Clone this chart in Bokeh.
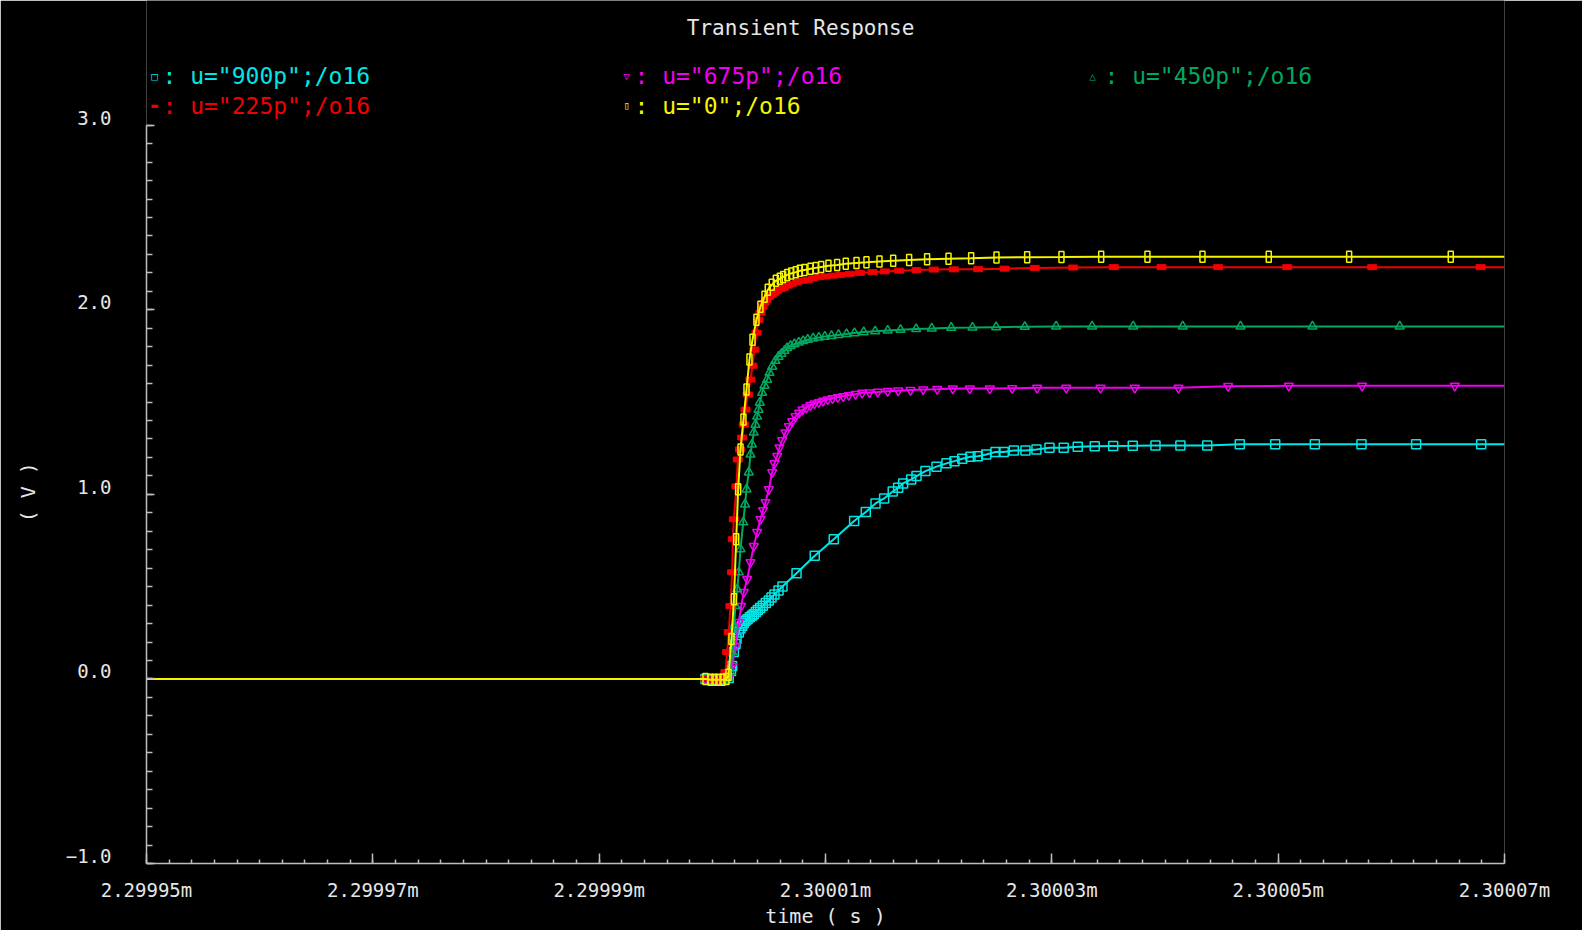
import numpy as np
from bokeh.plotting import figure
from bokeh.models import ColumnDataSource, FixedTicker, Label, Range1d
from bokeh.embed import file_html
from bokeh.resources import INLINE

# ---------------- data (time in ns relative to 2.30000 ms, voltage in V) -------------
X_TICKS = [-50, -30, -10, 10, 30, 50, 70]
X_TICK_LABELS = ["2.29995m", "2.29997m", "2.29999m", "2.30001m", "2.30003m", "2.30005m", "2.30007m"]
Y_TICKS = [-1, 0, 1, 2, 3]
Y_TICK_LABELS = ["\u22121.0", "0.0", "1.0", "2.0", "3.0"]

TITLE = "Transient Response"
X_LABEL = "time ( s )"
Y_LABEL = "( V )"

LEGEND_SYMBOLS = ["\u25a1", "\u25bd", "\u25b3", "\u25ac", "\u25af"]
LEGEND_LABELS = ['u="900p";/o16', 'u="675p";/o16', 'u="450p";/o16', 'u="225p";/o16', 'u="0";/o16']

# u = 900p (cyan)
t_900 = [-50, -0.61, 0.01, 0.54, 1.07, 1.45, 1.65, 1.75, 1.90, 2.05, 2.14, 2.34, 2.49, 2.64, 2.78, 2.93,
         3.11, 3.31, 3.49, 3.66, 3.84, 4.02, 4.23, 4.46, 4.72, 4.99, 5.23, 5.49, 5.85, 6.20, 7.44, 9.05,
         10.73, 12.53, 13.56, 14.42, 15.18, 15.94, 16.42, 16.86, 17.57, 18.04, 18.83, 19.81, 20.69, 21.40,
         22.08, 22.81, 23.46, 24.20, 25.02, 25.75, 26.64, 27.67, 28.64, 29.79, 31.05, 32.29, 33.79, 35.42,
         37.15, 39.16, 41.36, 43.73, 46.61, 49.74, 53.24, 57.36, 62.19, 67.94, 70]
v_900 = [0, 0, -0.005, -0.005, -0.005, 0.005, 0.043, 0.070, 0.146, 0.189, 0.216, 0.252, 0.273, 0.288, 0.303,
         0.315, 0.324, 0.334, 0.342, 0.351, 0.362, 0.373, 0.384, 0.396, 0.411, 0.425, 0.441, 0.458, 0.479,
         0.501, 0.573, 0.667, 0.757, 0.856, 0.904, 0.951, 0.978, 1.015, 1.036, 1.059, 1.081, 1.099, 1.126,
         1.150, 1.168, 1.180, 1.193, 1.204, 1.207, 1.216, 1.229, 1.229, 1.238, 1.238, 1.243, 1.252, 1.252,
         1.258, 1.261, 1.262, 1.263, 1.265, 1.265, 1.265, 1.272, 1.272, 1.272, 1.272, 1.272, 1.272, 1.272]

# u = 675p (magenta)
t_675 = [-50, -0.61, 0.01, 0.54, 1.07, 1.45, 1.75, 2.05, 2.34, 2.55, 2.78, 3.08, 3.37, 3.66, 3.96, 4.25,
         4.48, 4.70, 4.99, 5.29, 5.49, 5.73, 5.93, 6.17, 6.46, 6.76, 7.06, 7.35, 7.67, 7.97, 8.32, 8.67,
         9.03, 9.41, 9.79, 10.20, 10.62, 11.09, 11.56, 12.06, 12.65, 13.24, 13.89, 14.62, 15.50, 16.42,
         17.51, 18.63, 19.87, 21.25, 22.75, 24.52, 26.50, 28.70, 31.27, 34.30, 37.33, 41.19, 45.58, 50.94,
         57.42, 65.61, 70]
v_675 = [0, 0, -0.005, -0.005, -0.005, 0.005, 0.070, 0.178, 0.308, 0.395, 0.470, 0.541, 0.632, 0.719, 0.795,
         0.865, 0.914, 0.957, 1.027, 1.119, 1.168, 1.207, 1.254, 1.292, 1.335, 1.368, 1.395, 1.422, 1.441,
         1.459, 1.470, 1.483, 1.492, 1.499, 1.506, 1.514, 1.520, 1.526, 1.531, 1.537, 1.543, 1.550, 1.552,
         1.555, 1.559, 1.562, 1.565, 1.568, 1.570, 1.573, 1.573, 1.573, 1.575, 1.577, 1.577, 1.577, 1.577,
         1.577, 1.586, 1.588, 1.588, 1.588, 1.588]

# u = 450p (green)
t_450 = [-50, -0.61, 0.01, 0.54, 1.07, 1.43, 1.60, 1.75, 1.90, 2.05, 2.20, 2.34, 2.49, 2.73, 2.89, 3.02,
         3.22, 3.37, 3.50, 3.66, 3.81, 3.96, 4.08, 4.19, 4.40, 4.61, 4.85, 5.05, 5.29, 5.58, 5.85, 6.11,
         6.38, 6.61, 6.91, 7.26, 7.64, 8.03, 8.43, 8.91, 9.41, 9.94, 10.53, 11.15, 11.86, 12.56, 13.38,
         14.39, 15.50, 16.63, 18.01, 19.39, 21.11, 22.99, 25.08, 27.61, 30.38, 33.56, 37.19, 41.57, 46.67,
         53.03, 60.74, 70]
v_450 = [0, 0, -0.005, -0.005, -0.005, 0.005, 0.038, 0.146, 0.286, 0.395, 0.486, 0.578, 0.703, 0.849, 0.946,
         1.027, 1.119, 1.216, 1.270, 1.335, 1.378, 1.422, 1.459, 1.497, 1.551, 1.589, 1.622, 1.659, 1.692,
         1.724, 1.746, 1.762, 1.778, 1.793, 1.805, 1.814, 1.823, 1.831, 1.838, 1.845, 1.850, 1.855, 1.859,
         1.864, 1.869, 1.874, 1.879, 1.884, 1.888, 1.892, 1.896, 1.899, 1.903, 1.904, 1.906, 1.908, 1.910,
         1.910, 1.910, 1.910, 1.910, 1.910, 1.910, 1.910]

# u = 225p (red)
t_225 = [-50, -0.61, 0.01, 0.54, 0.99, 1.16, 1.31, 1.45, 1.60, 1.75, 1.81, 1.90, 2.13, 2.25, 2.44, 2.64,
         2.78, 2.93, 3.13, 3.37, 3.55, 3.72, 3.90, 4.08, 4.26, 4.43, 4.61, 4.78, 5.02, 5.25, 5.49, 5.73,
         6.02, 6.31, 6.67, 7.06, 7.50, 7.97, 8.44, 8.91, 9.44, 10.02, 10.68, 11.32, 12.15, 13.03, 14.15,
         15.24, 16.51, 18.04, 19.57, 21.34, 23.49, 25.82, 28.49, 31.89, 35.47, 39.69, 44.70, 50.80, 58.31,
         67.88, 70]
v_225 = [0, 0, -0.005, -0.005, 0.005, 0.038, 0.146, 0.254, 0.395, 0.578, 0.757, 0.865, 1.043, 1.189, 1.243,
         1.308, 1.378, 1.459, 1.541, 1.622, 1.697, 1.784, 1.876, 1.946, 1.984, 2.016, 2.038, 2.054, 2.070,
         2.081, 2.092, 2.103, 2.112, 2.119, 2.131, 2.141, 2.150, 2.157, 2.162, 2.170, 2.177, 2.181, 2.185,
         2.189, 2.195, 2.200, 2.204, 2.208, 2.212, 2.215, 2.218, 2.219, 2.220, 2.223, 2.227, 2.229, 2.231,
         2.231, 2.231, 2.231, 2.231, 2.231, 2.231]

# u = 0 (yellow)
t_0 = [-50, -0.61, -0.16, 0.19, 0.54, 0.90, 1.25, 1.43, 1.69, 1.91, 2.11, 2.28, 2.49, 2.75, 3.02, 3.28,
       3.55, 3.90, 4.25, 4.61, 4.90, 5.25, 5.61, 5.96, 6.26, 6.61, 6.97, 7.37, 7.73, 8.14, 8.67, 9.14, 9.62,
       10.26, 11.03, 11.79, 12.74, 13.62, 14.77, 15.98, 17.39, 18.98, 20.87, 22.87, 25.11, 27.82, 30.85,
       34.36, 38.45, 43.31, 49.17, 56.27, 65.25, 70.0]
v_0 = [0, 0, -0.005, -0.005, -0.005, -0.005, 0, 0.022, 0.216, 0.432, 0.757, 1.027, 1.243, 1.405, 1.568, 1.730,
       1.838, 1.946, 2.016, 2.070, 2.108, 2.135, 2.157, 2.168, 2.178, 2.189, 2.197, 2.204, 2.211, 2.216,
       2.222, 2.227, 2.232, 2.238, 2.243, 2.249, 2.254, 2.257, 2.262, 2.266, 2.270, 2.274, 2.277, 2.279,
       2.283, 2.285, 2.286, 2.288, 2.288, 2.288, 2.288, 2.288, 2.288, 2.288]

# ---------------- style -------------
CYAN, MAGENTA, GREEN, RED, YELLOW = "#00E6E6", "#F000F0", "#00A860", "#F00000", "#F5F500"
AXIS_COLOR = "#BEBEBE"
TEXT_COLOR = "#E6E6E6"
FONT = "DejaVu Sans Mono"

# The frame reaches the top of the canvas so the title/legend area (above 3.0 V) is drawable;
# the y axis itself is bounded to -1 .. 3 V.
p = figure(width=1582, height=930, x_range=Range1d(-50, 70), y_range=Range1d(-1, 3.6757),
           output_backend="svg", toolbar_location=None,
           min_border_left=146, min_border_right=78, min_border_top=0, min_border_bottom=65)
p.background_fill_color = "black"
p.border_fill_color = "black"
p.outline_line_color = None
p.grid.visible = False

for ax in (p.xaxis, p.yaxis):
    ax.axis_line_color = AXIS_COLOR
    ax.axis_line_width = 1.5
    ax.major_tick_line_color = AXIS_COLOR
    ax.minor_tick_line_color = AXIS_COLOR
    ax.major_tick_line_width = 1.5
    ax.minor_tick_line_width = 1.5
    ax.major_tick_out = 0
    ax.minor_tick_out = 0
    ax.major_label_text_color = TEXT_COLOR
    ax.major_label_text_font = FONT
    ax.major_label_text_font_size = "19px"
    ax.axis_label_text_color = TEXT_COLOR
    ax.axis_label_text_font = FONT
    ax.axis_label_text_font_size = "20px"
    ax.axis_label_text_font_style = "normal"

p.xaxis.ticker = FixedTicker(ticks=X_TICKS, minor_ticks=list(np.arange(-50, 70.001, 2.0)))
p.xaxis.major_label_overrides = {k: v for k, v in zip(X_TICKS, X_TICK_LABELS)}
p.xaxis.major_tick_in = 10
p.xaxis.minor_tick_in = 4
p.xaxis.major_label_standoff = 15
p.xaxis.axis_label = X_LABEL
p.xaxis.axis_label_standoff = 0

p.yaxis.bounds = (-1, 3)
p.yaxis.ticker = FixedTicker(ticks=Y_TICKS, minor_ticks=list(np.round(np.arange(-1, 3.001, 0.1), 2)))
# labels sit slightly above their ticks in the original: a trailing empty line lifts them
p.yaxis.major_label_overrides = {k: v + "\n" for k, v in zip(Y_TICKS, Y_TICK_LABELS)}
p.yaxis.major_label_text_line_height = 0.7
p.yaxis.major_tick_in = 8
p.yaxis.minor_tick_in = 6
p.yaxis.major_label_standoff = 35
# the label is centred on the whole frame; non-breaking padding moves the visible
# part down to the middle of the -1..3 V axis
p.yaxis.axis_label = Y_LABEL + "\u00a0" * 10
p.yaxis.axis_label_standoff = 23

series = [
    (t_900, v_900, CYAN, "square"),
    (t_675, v_675, MAGENTA, "inverted_triangle"),
    (t_450, v_450, GREEN, "triangle"),
    (t_225, v_225, RED, "rect_filled"),
    (t_0, v_0, YELLOW, "rect_tall"),
]

for t, v, color, mk in series:
    p.line(t, v, line_color=color, line_width=2)
    msrc = ColumnDataSource(dict(t=t[1:-1], v=v[1:-1]))
    if mk == "rect_filled":
        p.rect("t", "v", width=9, height=5, width_units="screen", height_units="screen",
               fill_color=color, line_color=color, source=msrc)
    elif mk == "rect_tall":
        p.rect("t", "v", width=5, height=11, width_units="screen", height_units="screen",
               fill_color=None, line_color=color, line_width=1.5, source=msrc)
    else:
        p.scatter("t", "v", marker=mk, size=9, fill_color=None, line_color=color,
                  line_width=1.5, source=msrc)

# title and legend, positioned in data units in the area above 3.0 V
p.add_layout(Label(x=7.8, y=3.527, text=TITLE,
                   text_align="center", text_baseline="middle", text_color=TEXT_COLOR,
                   text_font=FONT, text_font_size="21px"))

legend_sym_pos = [(-49.29, 3.265), (-7.59, 3.265), (33.59, 3.265), (-49.29, 3.105), (-7.59, 3.105)]
legend_txt_x = [-48.59, -6.88, 34.65, -48.59, -6.88]
legend_colors = [CYAN, MAGENTA, GREEN, RED, YELLOW]
for sym, lab, col, (sx, sy), tx in zip(LEGEND_SYMBOLS, LEGEND_LABELS, legend_colors,
                                        legend_sym_pos, legend_txt_x):
    p.add_layout(Label(x=sx, y=sy, text=sym, text_align="center", text_baseline="middle",
                       text_color=col, text_font=FONT, text_font_size="11px"))
    p.add_layout(Label(x=tx, y=sy, text=f": {lab}",
                       text_align="left", text_baseline="middle", text_color=col,
                       text_font=FONT, text_font_size="23px"))

open("out.html", "w").write(file_html(p, INLINE))
